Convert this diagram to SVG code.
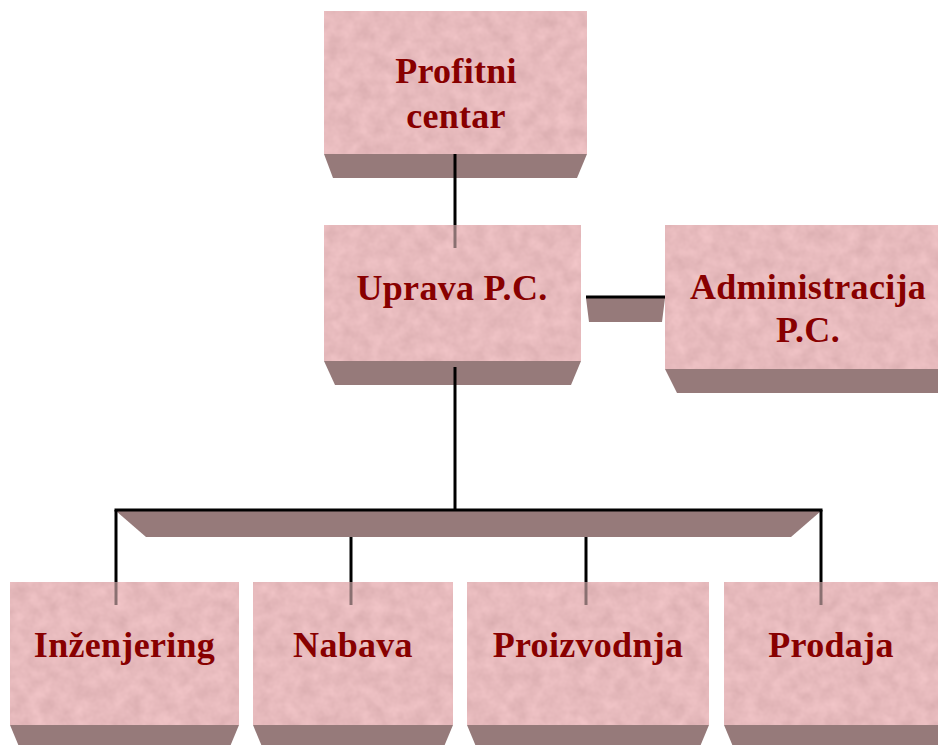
<svg xmlns="http://www.w3.org/2000/svg" width="938" height="745" viewBox="0 0 938 745">
<defs>
<filter id="tex" x="0" y="0" width="100%" height="100%" color-interpolation-filters="sRGB">
<feTurbulence type="fractalNoise" baseFrequency="0.07" numOctaves="3" seed="7" result="n"/>
<feColorMatrix in="n" type="matrix" values="0.11 0 0 0 0.85  0.11 0 0 0 0.675  0.11 0 0 0 0.685  0 0 0 0 1" result="c"/>
<feComposite in="c" in2="SourceGraphic" operator="in"/>
</filter>
<style>
.face{fill:#e6bbbc;filter:url(#tex)}
.side{fill:#967a7a}
.lbl{font-family:"Liberation Serif","Times New Roman",serif;font-weight:bold;font-size:36px;fill:#880000;text-anchor:middle;letter-spacing:0.3px}
.ln{stroke:#000;stroke-width:3;fill:none}
.lnin{stroke:#8a7071;stroke-width:3;fill:none}
</style>
</defs>
<rect width="938" height="745" fill="#fff"/>

<g id="connectors">
<line class="ln" x1="455" y1="154" x2="455" y2="225"/>
<line class="ln" x1="455" y1="366" x2="455" y2="511"/>
<polygon class="side" points="586,298 665,298 662,322 589,322"/>
<line class="ln" x1="586" y1="297" x2="665" y2="297"/>
<polygon class="side" points="116,511 821,511 791,537 146,537"/>
<line class="ln" x1="114.5" y1="510" x2="822.5" y2="510"/>
<line class="ln" x1="116" y1="510" x2="116" y2="582"/>
<line class="ln" x1="351" y1="537" x2="351" y2="582"/>
<line class="ln" x1="586" y1="537" x2="586" y2="582"/>
<line class="ln" x1="821" y1="510" x2="821" y2="582"/>
</g>

<g id="profitni">
<rect class="face" x="324" y="11" width="263" height="143"/>
<polygon class="side" points="324,154 587,154 577,178 333,178"/>
<line class="ln" x1="455" y1="154" x2="455" y2="178"/>
<text class="lbl" x="456" y="83">Profitni</text>
<text class="lbl" x="456" y="128">centar</text>
</g>

<g id="uprava">
<rect class="face" x="324" y="225" width="257" height="136"/>
<line class="lnin" x1="455" y1="225" x2="455" y2="248"/>
<polygon class="side" points="324,361 581,361 571,385 335,385"/>
<line class="ln" x1="455" y1="367" x2="455" y2="385"/>
<text class="lbl" x="452" y="300">Uprava P.C.</text>
</g>

<g id="administracija">
<rect class="face" x="665" y="225" width="290" height="144"/>
<polygon class="side" points="665,369 955,369 943,393 677,393"/>
<text class="lbl" x="808" y="299">Administracija</text>
<text class="lbl" x="808" y="342">P.C.</text>
</g>

<g id="inzenjering">
<rect class="face" x="10" y="582" width="229" height="143"/>
<line class="lnin" x1="116" y1="582" x2="116" y2="605"/>
<polygon class="side" points="10,725 239,725 229,749 20,749"/>
<text class="lbl" x="124.5" y="657">Inženjering</text>
</g>

<g id="nabava">
<rect class="face" x="253" y="582" width="200" height="143"/>
<line class="lnin" x1="351" y1="582" x2="351" y2="605"/>
<polygon class="side" points="253,725 453,725 443,749 263,749"/>
<text class="lbl" x="353" y="657">Nabava</text>
</g>

<g id="proizvodnja">
<rect class="face" x="467" y="582" width="242" height="143"/>
<line class="lnin" x1="586" y1="582" x2="586" y2="605"/>
<polygon class="side" points="467,725 709,725 699,749 477,749"/>
<text class="lbl" x="588" y="657">Proizvodnja</text>
</g>

<g id="prodaja">
<rect class="face" x="724" y="582" width="214" height="143"/>
<line class="lnin" x1="821" y1="582" x2="821" y2="605"/>
<polygon class="side" points="724,725 938,725 938,749 734,749"/>
<text class="lbl" x="831" y="657">Prodaja</text>
</g>
</svg>
